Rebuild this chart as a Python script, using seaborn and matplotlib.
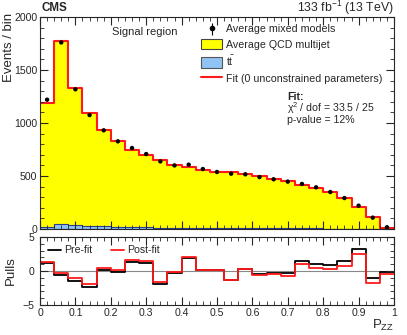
import numpy as np
import pandas as pd
import seaborn as sns
import matplotlib.pyplot as plt
from matplotlib.lines import Line2D
from matplotlib.patches import Patch
from matplotlib.ticker import MultipleLocator

# bin edges in P_ZZ (25 bins)
edges = np.linspace(0, 1, 26)
centers = 0.5 * (edges[:-1] + edges[1:])

# fit total (QCD multijet + ttbar)
fit_total = [1190, 1770, 1334, 1097, 931, 827, 748, 695, 654, 600,
             585, 560, 541, 535, 516, 497, 475, 453, 415, 387,
             346, 289, 208, 116, 13]
# ttbar component
ttbar = [18, 48, 38, 30, 25, 21, 18, 16, 14, 12,
         11, 10, 9, 8, 7, 7, 6, 6, 5, 5,
         4, 4, 3, 3, 2]
# average mixed models (points)
mixed = [1220, 1760, 1318, 1075, 931, 827, 764, 707, 638, 600,
         607, 566, 538, 522, 516, 490, 469, 447, 425, 393,
         349, 292, 220, 107, 16]

# pulls
pull_pre = [1.2, -0.55, -1.4, -2.3, 0.15, -0.15, 1.35, 1.25, -1.85, -0.3,
            1.95, 0.15, 0.1, -1.3, 0.25, -0.4, -0.25, -0.3, 1.4, 1.0,
            0.95, 1.5, 3.25, -1.0, -0.1]
pull_post = [1.35, -0.25, -1.1, -1.85, 0.45, 0.2, 1.6, 1.4, -1.65, -0.1,
             2.1, 0.1, 0.15, -1.3, 0.3, -0.55, -0.4, -0.75, 1.0, 0.45,
             0.25, 0.75, 2.5, -1.75, -0.4]

sns.set_style("ticks")
plt.rcParams["font.family"] = ["Liberation Sans", "DejaVu Sans"]
plt.rcParams["mathtext.fontset"] = "custom"
plt.rcParams["mathtext.rm"] = "Liberation Sans"
plt.rcParams["mathtext.it"] = "Liberation Sans:italic"
plt.rcParams["mathtext.bf"] = "Liberation Sans:bold"
plt.rcParams["font.size"] = 8

df = pd.DataFrame({"x": centers, "total": fit_total, "tt": ttbar, "mixed": mixed})

def steps(vals):
    return pd.DataFrame({"x": edges, "y": list(vals) + [vals[-1]]})

fig = plt.figure(figsize=(4.07, 3.35), dpi=100)
ax = fig.add_axes([40 / 407, 1 - 229 / 335, 354 / 407, 212 / 335])
axp = fig.add_axes([40 / 407, 1 - 305 / 335, 354 / 407, 68 / 335])

# stacked components
sns.histplot(data=df, x="x", weights="total", bins=25, binrange=(0, 1),
             element="step", fill=True, color="#ffff00", alpha=1,
             linewidth=0, ax=ax)
sns.histplot(data=df, x="x", weights="tt", bins=25, binrange=(0, 1),
             element="step", fill=True, color="#8fc4f5", alpha=1,
             edgecolor="#2b3f8c", linewidth=0.8, ax=ax)
# fit line
sns.lineplot(data=steps(fit_total), x="x", y="y", drawstyle="steps-post",
             color="#ff1a1a", linewidth=1.5, ax=ax)
ax.plot([1, 1], [0, fit_total[-1]], color="#ff1a1a", linewidth=1.5)
# mixed model points
sns.scatterplot(data=df, x="x", y="mixed", color="black", s=10,
                edgecolor="none", zorder=5, ax=ax)

ax.set_xlim(0, 1)
ax.set_ylim(0, 2000)
ax.set_xlabel("")
ax.set_ylabel("Events / bin", fontsize=9.5, loc="top")
ax.set_xticklabels([])
ax.xaxis.set_major_locator(MultipleLocator(0.1))
ax.xaxis.set_minor_locator(MultipleLocator(0.02))
ax.yaxis.set_major_locator(MultipleLocator(500))
ax.yaxis.set_minor_locator(MultipleLocator(100))

for a in (ax, axp):
    a.tick_params(which="both", direction="in", top=True, right=True,
                  labelsize=7.6, pad=2)
    a.tick_params(which="major", length=6, width=0.8)
    a.tick_params(which="minor", length=3, width=0.6)
    for s in a.spines.values():
        s.set_linewidth(0.8)
    a.set_axisbelow(False)
axp.tick_params(axis="y", pad=4)

handles = [
    Line2D([0], [0], color="black", marker="o", markersize=3, linestyle="none"),
    Patch(facecolor="#ffff00", edgecolor="#444444", linewidth=0.8),
    Patch(facecolor="#8fc4f5", edgecolor="#555555", linewidth=0.8),
    Line2D([0], [0], color="#ff1a1a", linewidth=1.5),
]
labels = ["Average mixed models", "Average QCD multijet",
          r"t$\bar{\mathrm{t}}$", "Fit (0 unconstrained parameters)"]
ax.legend(handles, labels, loc="upper left", bbox_to_anchor=(0.44, 0.995),
          frameon=False, fontsize=7.7, borderpad=0, handlelength=2.0,
          handleheight=1.15, handletextpad=0.35, labelspacing=0.42)
ax.errorbar([0.4845], [0.945], yerr=[0.028], transform=ax.transAxes,
            color="black", linewidth=0.8, capsize=0, zorder=6)

ax.text(0.297, 0.93, "Signal region", transform=ax.transAxes, fontsize=8,
        ha="center", va="center")
ax.text(0.698, 0.625, "Fit:", transform=ax.transAxes, fontsize=7.6,
        fontweight="bold", va="center")
ax.text(0.698, 0.568, "χ$^2$ / dof = 33.5 / 25", transform=ax.transAxes,
        fontsize=7.6, va="center")
ax.text(0.698, 0.512, "p-value = 12%", transform=ax.transAxes,
        fontsize=7.6, va="center")

fig.text(42 / 407, 1 - 11 / 335, "CMS", fontsize=8.4, fontweight="bold",
         va="baseline", ha="left")
fig.text(394 / 407, 1 - 12 / 335, r"133 fb$^{-1}$ (13 TeV)", fontsize=8.8,
         va="baseline", ha="right")

# pulls
axp.axhline(0, color="#888888", linewidth=0.8)
sns.lineplot(data=steps(pull_pre), x="x", y="y", drawstyle="steps-post",
             color="black", linewidth=1.3, ax=axp, label="Pre-fit")
sns.lineplot(data=steps(pull_post), x="x", y="y", drawstyle="steps-post",
             color="#ff1a1a", linewidth=1.3, ax=axp, label="Post-fit")
axp.set_xlim(0, 1)
axp.set_ylim(-5, 5)
axp.xaxis.set_major_locator(MultipleLocator(0.1))
axp.xaxis.set_minor_locator(MultipleLocator(0.02))
axp.yaxis.set_major_locator(MultipleLocator(5))
axp.yaxis.set_minor_locator(MultipleLocator(1))
axp.set_xticks(np.round(np.arange(0, 1.01, 0.1), 1))
axp.set_xticklabels(["0", "0.1", "0.2", "0.3", "0.4", "0.5", "0.6", "0.7",
                     "0.8", "0.9", "1"])
axp.set_ylabel("Pulls", fontsize=9.5)
axp.set_xlabel(r"P$_{\mathrm{ZZ}}$", fontsize=9.5, loc="right")
axp.legend(loc="upper left", ncol=2, frameon=False, fontsize=7.6,
           borderpad=0.3, handlelength=1.2, handletextpad=0.3,
           columnspacing=1.8, bbox_to_anchor=(0.0, 1.0))

ax.yaxis.set_label_coords(-0.071, 1.02)
axp.yaxis.set_label_coords(-0.066, 0.5)
axp.xaxis.set_label_coords(1.0, -0.19)

# keep the touching "0" / "5" tick labels apart, as in the reference
fig.canvas.draw()
ax.get_yticklabels()[0].set_va("baseline")
axp.get_yticklabels()[-1].set_va("top")

fig.savefig("out.png", dpi=100)
